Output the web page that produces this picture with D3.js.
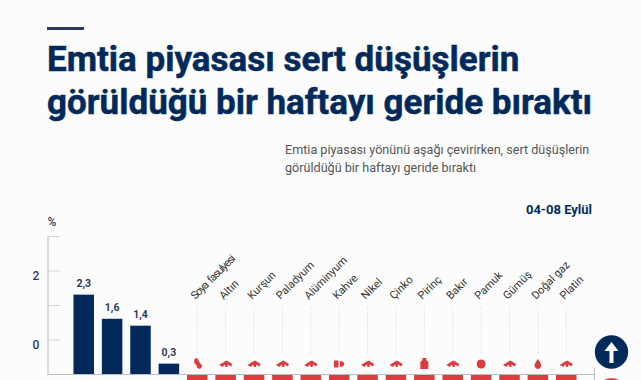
<!DOCTYPE html>
<html>
<head>
<meta charset="utf-8">
<script src="https://cdn.jsdelivr.net/npm/d3@7"></script>
<style>
    html, body { margin: 0; padding: 0; background: #fcfcfc; overflow: hidden; }
    text { font-family: Roboto, sans-serif; }
</style>
</head>
<body>
<div id="chart"></div>
<script>
// the first four names sit below the crop, so they stay empty
var categories = ["", " ", "  ", "   ", "Soya fasulyesi", "Altın", "Kurşun", "Paladyum", "Alüminyum", "Kahve",
    "Nikel", "Çinko", "Pirinç", "Bakır", "Pamuk", "Gümüş", "Doğal gaz", "Platin"];
var values = [2.3, 1.6, 1.4, 0.3, -0.5, -0.6, -0.8, -1, -1.2, -1.4, -1.6, -1.8, -2, -2.2, -2.5, -2.8, -3.2, -3.6];
var icons = ["", "", "", "", "bean", "bars", "bars", "bars", "bars", "coffee", "bars", "bars", "sack", "bars", "ball", "bars", "drop", "bars"];
var titleLines = ["Emtia piyasası sert düşüşlerin", "görüldüğü bir haftayı geride bıraktı"];
var subtitleLines = ["Emtia piyasası yönünü aşağı çevirirken, sert düşüşlerin", "görüldüğü bir haftayı geride bıraktı"];
var axisTicks = [0, 1, 2, 3, 4];
var axisLabels = [0, 2];

var width = 641;
var height = 380;
var navy = "#012a5b";
var red = "#dc3c3e";

var svg = d3.select("#chart").append("svg")
    .attr("width", width)
    .attr("height", height)
    .style("display", "block");

//=========================header=====================
svg.append("rect")
    .attr("x", 47)
    .attr("y", 27)
    .attr("width", 37)
    .attr("height", 3)
    .attr("fill", "#2c3a5c");

svg.selectAll(".title").data(titleLines).enter().append("text")
    .attr("class", "title")
    .attr("x", 47)
    .attr("y", function (d, i) { return 71 + i * 43; })
    .attr("font-size", 35)
    .attr("font-weight", 700)
    .attr("stroke", navy)
    .attr("stroke-width", 0.5)
    .attr("fill", navy)
    .text(function (d) { return d; });

svg.selectAll(".subtitle").data(subtitleLines).enter().append("text")
    .attr("class", "subtitle")
    .attr("x", 285)
    .attr("y", function (d, i) { return 154 + i * 18; })
    .attr("font-size", 12.6)
    .attr("fill", "#555")
    .text(function (d) { return d; });

svg.append("text")
    .attr("x", 592)
    .attr("y", 214)
    .attr("text-anchor", "end")
    .attr("font-size", 13)
    .attr("font-weight", 700)
    .attr("fill", navy)
    .text("04-08 Eylül");

//=========================scales=====================
var x = d3.scaleBand()
    .domain(categories)
    .range([69.5, 580.5])
    .paddingInner(0.277)
    .paddingOuter(0.14);

var y = d3.scaleLinear()
    .domain([0, 4])
    .range([374, 236]);

// the printed labels do not line up with the ticks in the source
var yLabel = d3.scaleLinear()
    .domain([0, 2])
    .range([345, 276]);

var comma = d3.formatLocale({ decimal: ",", thousands: ".", grouping: [3], currency: ["", ""] }).format(".1f");

//=========================axis=====================
var yAxisCall = d3.axisRight(y)
    .tickValues(axisTicks)
    .tickSize(13)
    .tickSizeOuter(0)
    .tickFormat("");

var yAxis = svg.append("g")
    .attr("class", "y-axis")
    .attr("transform", "translate(47.5,0)")
    .call(yAxisCall);
yAxis.select(".domain").attr("stroke", "#b9bcc4");
yAxis.selectAll(".tick line").attr("stroke", "#d5d6da");

svg.selectAll(".y-label").data(axisLabels).enter().append("text")
    .attr("class", "y-label")
    .attr("x", 36)
    .attr("y", function (d) { return yLabel(d); })
    .attr("dy", "0.35em")
    .attr("text-anchor", "middle")
    .attr("font-size", 12)
    .attr("font-weight", 500)
    .attr("fill", "#2c3a5c")
    .text(function (d) { return d; });

svg.append("text")
    .attr("x", 52)
    .attr("y", 226)
    .attr("text-anchor", "middle")
    .attr("font-size", 12)
    .attr("font-weight", 500)
    .attr("fill", "#2c3a5c")
    .text("%");

//=========================bars=====================
svg.selectAll(".bar").data(values).enter().append("rect")
    .attr("class", "bar")
    .attr("x", function (d, i) { return x(categories[i]); })
    .attr("y", function (d) { return d > 0 ? y(d) : y(0); })
    .attr("width", x.bandwidth())
    .attr("height", function (d) { return Math.abs(y(d) - y(0)); })
    .attr("fill", function (d) { return d > 0 ? navy : red; });

svg.selectAll(".value").data(values.filter(function (d) { return d > 0; })).enter().append("text")
    .attr("class", "value")
    .attr("x", function (d, i) { return x(categories[i]) + x.bandwidth() / 2; })
    .attr("y", function (d) { return y(d) - 11; })
    .attr("dy", "0.35em")
    .attr("text-anchor", "middle")
    .attr("font-size", 10.5)
    .attr("font-weight", 700)
    .attr("fill", "#2c3a5c")
    .text(function (d) { return comma(d); });

svg.append("line")
    .attr("x1", 47.5)
    .attr("x2", 594.5)
    .attr("y1", y(0) + 0.5)
    .attr("y2", y(0) + 0.5)
    .attr("stroke", "#b9bcc4");

svg.append("line")
    .attr("x1", 594.5)
    .attr("x2", 594.5)
    .attr("y1", 368)
    .attr("y2", 380)
    .attr("stroke", "#b9bcc4");

//=========================names, leaders, icons=====================
var named = categories.slice(4);

svg.selectAll(".leader").data(named).enter().append("line")
    .attr("class", "leader")
    .attr("x1", function (d) { return x(d) + x.bandwidth() / 2; })
    .attr("x2", function (d) { return x(d) + x.bandwidth() / 2; })
    .attr("y1", 307)
    .attr("y2", 354)
    .attr("stroke", "#d8d8d8")
    .attr("stroke-dasharray", "1,1.5");

svg.selectAll(".name").data(named).enter().append("text")
    .attr("class", "name")
    .attr("transform", function (d) {
        return "translate(" + (x(d) + x.bandwidth() / 2 - 2) + ",300) rotate(-45)";
    })
    .attr("font-size", 11)
    .attr("letter-spacing", function (d) { return d === "Soya fasulyesi" ? -1.1 : 0; })
    .attr("word-spacing", function (d) { return d === "Soya fasulyesi" ? 2 : 0; })
    .attr("fill", "#333")
    .text(function (d) { return d; });

var iconPaths = {
    bars: "M-6.5,1 L-1,-2.5 L1,-3.5 L6.5,0 L5.5,2.5 L2,0.5 L2,3 L0,3 L-1,0.5 L-3,3 Z",
    bean: "M-3,-5 L0,-6 L2,-2 L5,2 L3,5 L0,4 L-1,1 L-3,-1 Z",
    coffee: "M-5,-3.5 L-0.7,-3.5 L-0.7,3.5 L-5,3.5 Q-6,0 -5,-3.5 Z M0.7,-3 Q5,-3 5,0 Q5,3 0.7,3 Z",
    sack: "M-2,-6 L2,-6 L2,-4 L4,-2 L4,5 L-4,5 L-4,-2 L-2,-4 Z",
    ball: "M0,-4.5 A4.5,4.5 0 1,1 0,4.5 A4.5,4.5 0 1,1 0,-4.5 Z",
    drop: "M0,-5 Q4,0 3.2,2.5 Q2,5 0,5 Q-2,5 -3.2,2.5 Q-4,0 0,-5 Z"
};

svg.selectAll(".icon").data(categories).enter().append("path")
    .attr("class", "icon")
    .attr("transform", function (d) { return "translate(" + (x(d) + x.bandwidth() / 2) + ",364)"; })
    .attr("d", function (d, i) { return iconPaths[icons[i]] || ""; })
    .attr("fill", red);

//=========================direction badges=====================
svg.append("circle")
    .attr("cx", 611.5)
    .attr("cy", 352)
    .attr("r", 16.7)
    .attr("fill", navy);

svg.append("path")
    .attr("transform", "translate(611.5,352)")
    .attr("d", "M0,-10 L7,-1 L2,-1 L2,11 L-2,11 L-2,-1 L-7,-1 Z")
    .attr("fill", "#fff");

svg.append("circle")
    .attr("cx", 611.5)
    .attr("cy", 395)
    .attr("r", 16.7)
    .attr("fill", red);
</script>
</body>
</html>
